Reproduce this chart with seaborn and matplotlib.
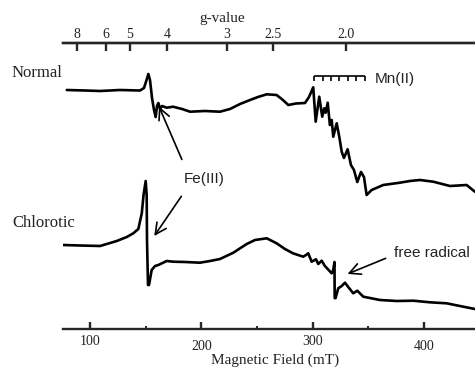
"""
EPR spectra of normal and chlorotic leaves
"""
import numpy as np
import pandas as pd
import matplotlib
matplotlib.use('Agg')
import matplotlib.pyplot as plt
import seaborn as sns

# spectrum data (field in mT, signal in a.u. relative to start baseline)
normal_field = [79.1, 95.5, 109.0, 127.0, 144.9, 148.5, 150.8, 152.4, 153.9, 155.7,
                157.5, 159.0, 160.2, 161.4, 162.9, 164.7, 168.9, 174.6, 182.7, 189.9,
                203.3, 216.8, 225.8, 234.8, 243.8, 250.9, 258.8, 267.7, 273.4, 278.2,
                285.1, 293.2, 296.8, 300.6, 302.8, 306.0, 308.7, 310.5, 311.8, 313.6,
                315.6, 317.2, 318.6, 321.7, 324.0, 326.2, 328.2, 331.5, 334.5, 337.2,
                340.2, 343.5, 346.2, 348.6, 353.1, 363.5, 378.5, 387.5, 396.5, 408.5,
                423.5, 438.5, 445.9]
normal_signal = [0, -0.5, -1, 0, -0.5, 2, 10, 16, 10, -8,
                 -20, -27, -16, -13, -19, -16, -17.7, -16.7, -19, -21.7,
                 -21, -21.7, -19, -14, -10, -7, -4.3, -5, -10, -15,
                 -13.5, -13, -7, 2.7, -31.7, -6.7, -26.7, -18.3, -22.7, -12.7,
                 -35, -30, -46.7, -33.3, -46.7, -61.7, -68, -59.3, -75, -80,
                 -92, -82, -87, -105, -100, -95, -92.7, -91, -90, -91.7,
                 -96, -95, -101.7]

chlorotic_field = [76.0, 91.0, 109.0, 124.0, 133.0, 138.9, 143.4, 146.5, 148.1, 150.0,
                   150.9, 151.2, 152.1, 153.0, 155.4, 158.4, 161.4, 168.9, 174.8, 185.4,
                   198.8, 207.8, 216.8, 228.8, 240.8, 248.3, 258.8, 267.7, 275.2, 282.4,
                   291.6, 294.1, 296.1, 299.2, 303.1, 305.1, 308.2, 311.1, 317.2, 318.6,
                   319.7, 319.9, 320.6, 323.1, 326.2, 329.1, 333.0, 336.6, 340.2, 345.6,
                   360.6, 375.6, 390.5, 405.5, 420.5, 432.4, 445.9]
chlorotic_signal = [0, -0.5, -1, 4, 8, 11.7, 16, 31.7, 50, 64,
                    50, 5, -40, -40, -25, -21, -20, -16, -16.7, -17,
                    -17.7, -16, -14, -7.7, 1, 5, 6.7, 1.7, -4, -8.3,
                    -11.7, -10, -8.3, -16.7, -14.3, -19, -15.7, -21, -28.3, -25,
                    -17, -53, -53.3, -43.3, -41, -37.7, -43.3, -48.3, -45.7, -51.7,
                    -55, -56, -55.7, -57.3, -58.3, -61, -64]

field_ticks = [100, 200, 300, 400]
field_minor = [150, 250, 350]
g_labels = ['8', '6', '5', '4', '3', '2.5', '2.0']
g_field = [88.0, 114.4, 135.9, 169.5, 222.8, 264.7, 330.0]   # field of each g tick
mn_lines = [301.5, 309.0, 316.5, 324.0, 331.5, 339.0, 347.0]  # Mn(II) hyperfine

# 세로 오프셋 (스펙트럼 쌓기)
normal_offset = 239
chlorotic_offset = 84

sns.set_style('white')
plt.rcParams['font.family'] = ['Liberation Serif', 'DejaVu Serif']
sans = ['Liberation Sans', 'DejaVu Sans']

df_n = pd.DataFrame({'field': normal_field,
                     'signal': np.array(normal_signal) + normal_offset})
df_c = pd.DataFrame({'field': chlorotic_field,
                     'signal': np.array(chlorotic_signal) + chlorotic_offset})

fig = plt.figure(figsize=(4.75, 3.69), dpi=100)
ax = fig.add_axes([63 / 475, 1 - 329 / 369, 1 - 63 / 475, 286 / 369])

sns.lineplot(data=df_n, x='field', y='signal', sort=False, estimator=None,
             color='black', lw=1.9, ax=ax)
sns.lineplot(data=df_c, x='field', y='signal', sort=False, estimator=None,
             color='black', lw=1.9, ax=ax)

ax.set_xlim(75.7, 446)
ax.set_ylim(0, 286)
ax.set_xlabel('')
ax.set_ylabel('')
ax.set_yticks([])
for s in ['left', 'right']:
    ax.spines[s].set_visible(False)
ax.spines['bottom'].set_linewidth(1.7)
ax.spines['top'].set_linewidth(1.7)

# bottom field axis
ax.set_xticks(field_ticks)
ax.set_xticks(field_minor, minor=True)
ax.tick_params(axis='x', which='major', direction='in', length=5, width=1.7,
               labelsize=10, bottom=True, labelcolor='#222222')
ax.tick_params(axis='x', which='minor', direction='in', length=2.5, width=1.4,
               bottom=True)
for i, t in enumerate(ax.xaxis.get_major_ticks()):
    t.set_pad(4 if i % 2 == 0 else 8)

# top g-value axis
ax2 = ax.secondary_xaxis('top')
ax2.set_xticks(g_field, labels=g_labels)
ax2.tick_params(axis='x', direction='in', length=5.5, width=1.7, labelsize=10, pad=1.5,
                labelcolor='#222222')
ax2.spines['top'].set_linewidth(1.7)

# Mn(II) bracket
ax.hlines(253, mn_lines[0], mn_lines[-1], color='black', lw=1.2)
ax.vlines(mn_lines, 248, 253, color='black', lw=1.2)
ax.text(356, 250, 'Mn(II)', ha='left', va='center', fontsize=11, family=sans,
        color='#222222')

# Fe(III) arrows
ax.text(202.5, 149.5, 'Fe(III)', ha='center', va='center', fontsize=11, family=sans,
        color='#222222')
arrow = dict(arrowstyle='->', lw=1.2, color='black', mutation_scale=20)
ax.annotate('', xy=(161.0, 225), xytext=(183.5, 167), arrowprops=arrow)
ax.annotate('', xy=(156.3, 90.7), xytext=(183.5, 135), arrowprops=arrow)

# free radical
ax.text(407.5, 76, 'free radical', ha='center', va='center', fontsize=11, family=sans,
        color='#222222')
ax.annotate('', xy=(329.1, 54), xytext=(368.0, 71.7), arrowprops=arrow)

# labels
fig.text(12 / 475, 1 - 72.7 / 369, 'Normal', ha='left', va='center', fontsize=12,
         color='#222222')
fig.text(12 / 475, 1 - 223.3 / 369, 'Chlorotic', ha='left', va='center', fontsize=12,
         color='#222222')
fig.text(221.7 / 475, 1 - 18.3 / 369, 'g-value', ha='center', va='center', fontsize=11,
         color='#222222')
fig.text(275 / 475, 1 - 360 / 369, 'Magnetic Field (mT)', ha='center', va='center',
         fontsize=11, color='#222222')

plt.savefig('out.png', dpi=100)
plt.close()
